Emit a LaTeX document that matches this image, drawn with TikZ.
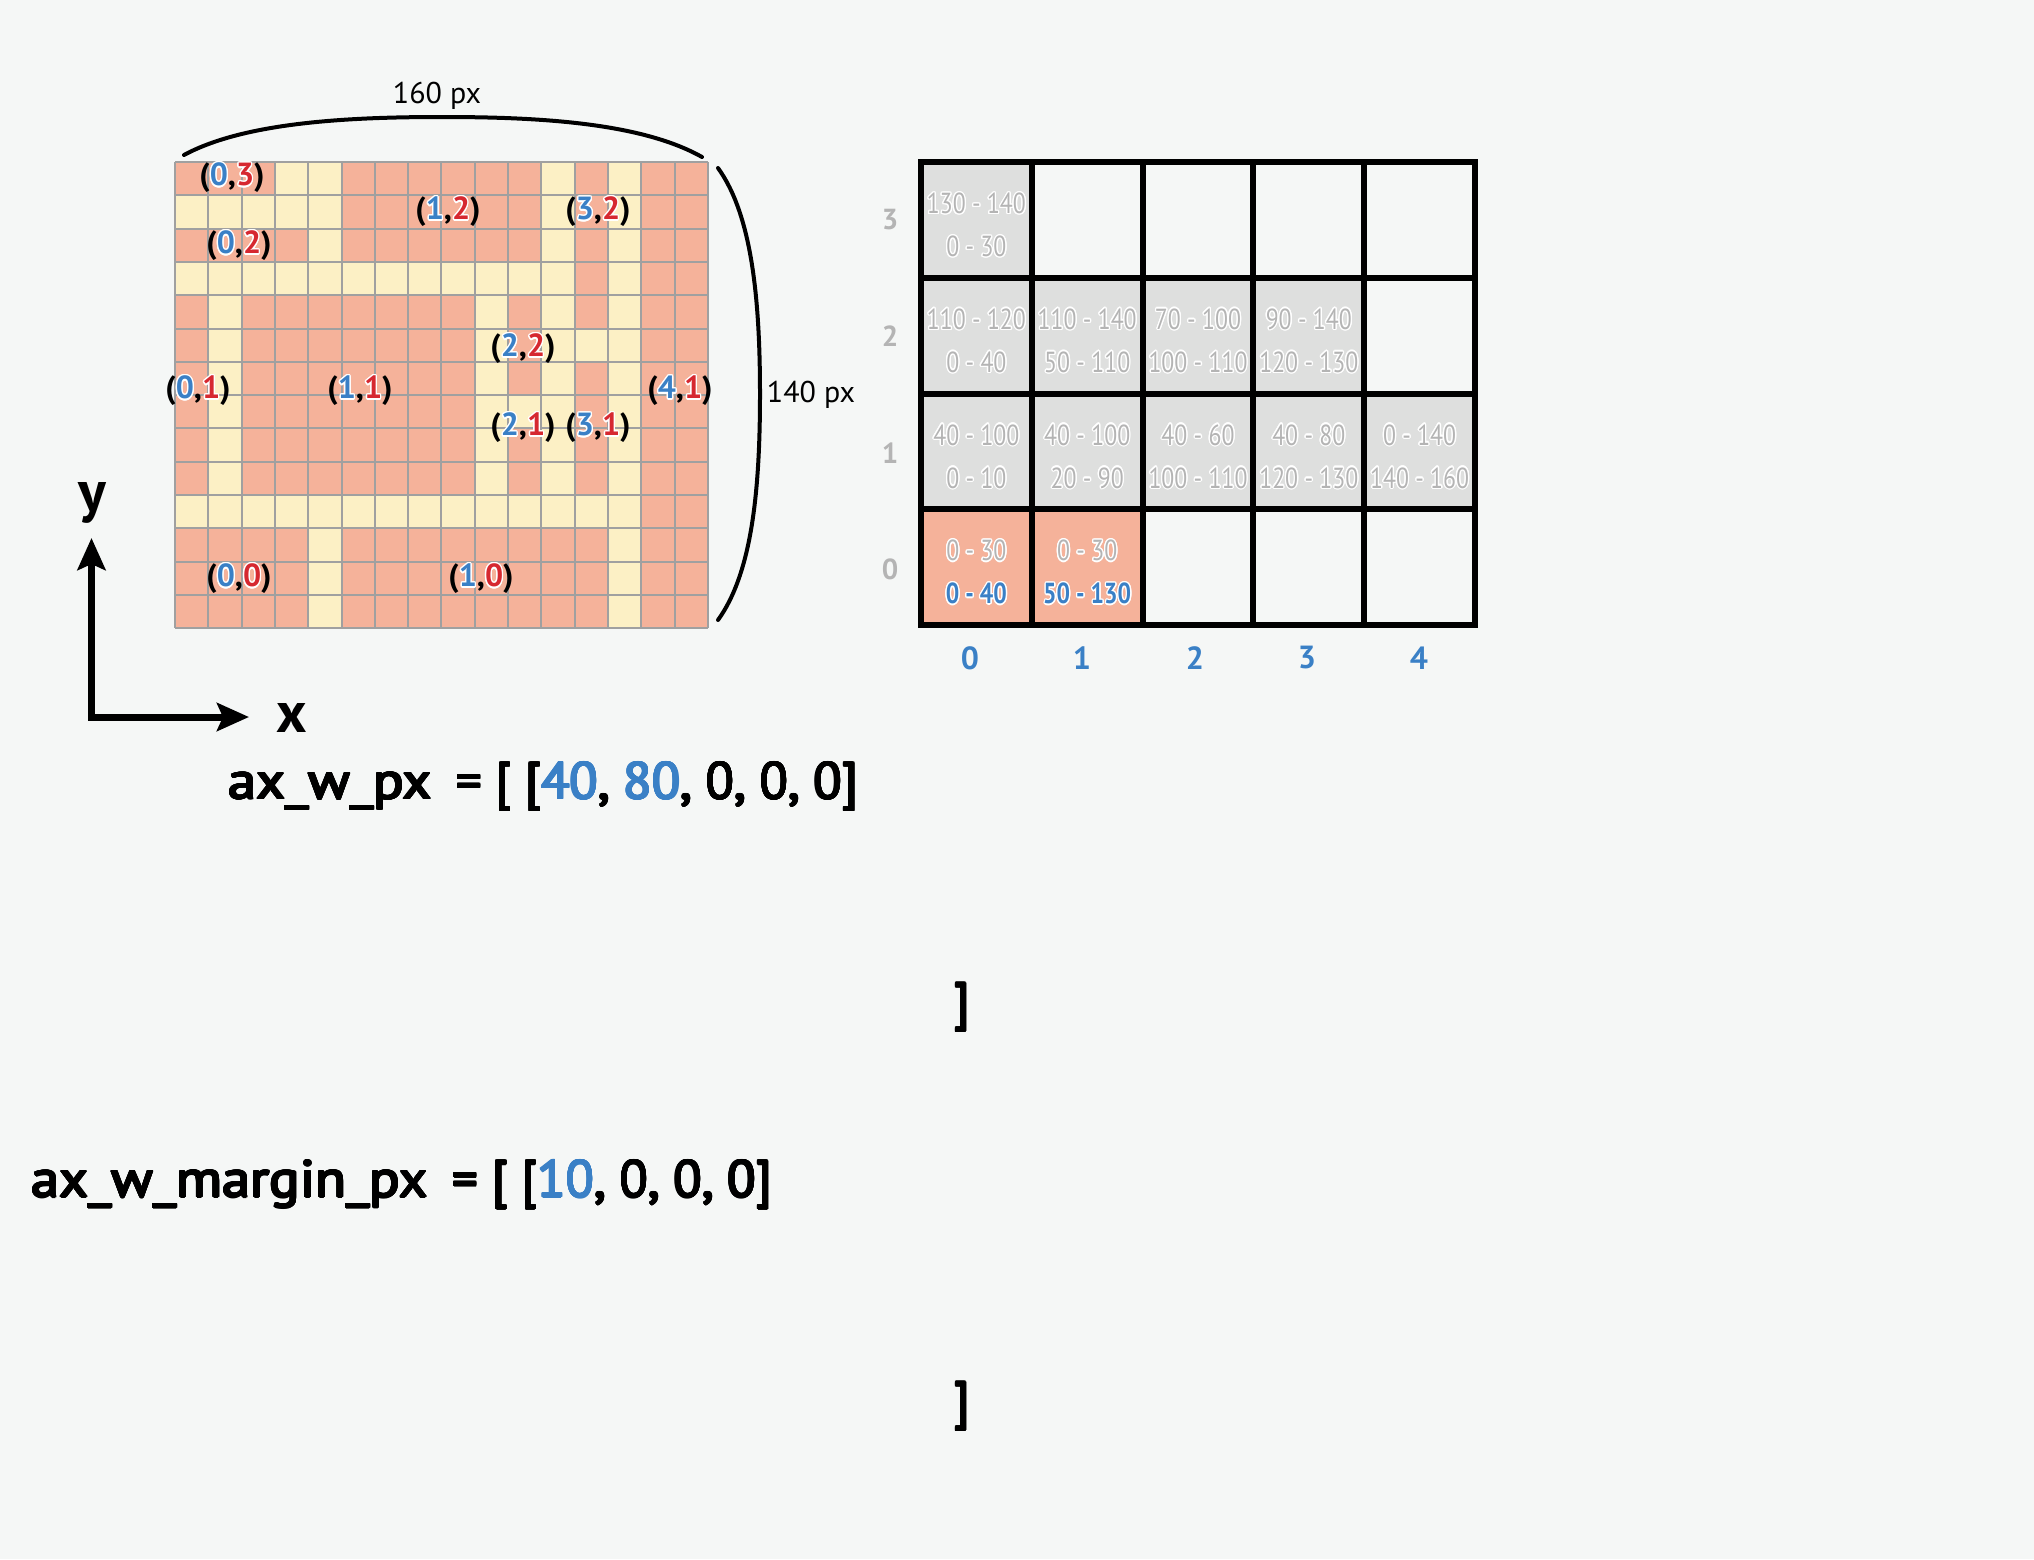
\documentclass[tikz,border=0pt]{standalone}
\usepackage{fontspec}
\setmainfont{PT Sans}
\newfontfamily\cellfont{PT Sans}[FakeStretch=0.82]
\newfontfamily\codefont{PT Sans}
\newfontfamily\codeid{PT Sans}[FakeStretch=1.09]
\usepackage{contour}
\contourlength{1.3pt}
\usetikzlibrary{arrows.meta}
\definecolor{bg}{RGB}{245,247,246}
\definecolor{salmon}{RGB}{245,178,154}
\definecolor{cream}{RGB}{252,240,197}
\definecolor{gridgray}{RGB}{160,160,160}
\definecolor{cellgray}{RGB}{222,223,222}
\definecolor{txtgray}{RGB}{180,180,180}
\definecolor{cblue}{RGB}{58,128,198}
\definecolor{cred}{RGB}{214,40,48}
\newcommand\cplabel[2]{(\textcolor{cblue}{\contour{white}{#1}},\textcolor{cred}{\contour{white}{#2}})}
\newcommand\embk[1]{{\contourlength{0.9pt}\contour{black}{#1}}}
\newcommand\embl[1]{{\contourlength{0.9pt}\color{cblue}\contour{cblue}{#1}}}
\tikzset{
  gridline/.style={draw=gridgray, line width=2pt},
  lab/.style={inner sep=0pt, font=\fontsize{32}{36}\selectfont\bfseries},
  brace/.style={draw=black, line width=4pt, line cap=round},
  dim/.style={inner sep=0pt, font=\fontsize{30}{34}\selectfont},
  axisline/.style={draw=black, line width=7pt, line join=miter,
     {Stealth[length=32pt,width=28pt,inset=6pt]}-{Stealth[length=32pt,width=28pt,inset=6pt]}},
  axlab/.style={inner sep=0pt, font=\fontsize{58}{62}\selectfont\bfseries},
  celltxt/.style={inner sep=0pt, text=txtgray, font=\fontsize{29}{32}\cellfont},
  rowlab/.style={inner sep=0pt, text=txtgray, font=\fontsize{29}{32}\selectfont\bfseries},
  collab/.style={inner sep=0pt, text=cblue, font=\fontsize{32}{36}\selectfont\bfseries},
  code/.style={inner sep=0pt, font=\fontsize{52}{58}\codefont},
}
\begin{document}
\begin{tikzpicture}[x=1pt,y=-1pt]
\fill[bg] (0,0) rectangle (2034,1559);
\useasboundingbox (0,0) rectangle (2034,1559);

% ---------- left pixel grid ----------
\begin{scope}[shift={(175,162)},x=33.3pt,y=-33.3pt]
  \fill[cream] (0,0) rectangle (16,14);
  \foreach \a/\b/\c/\d in {0/0/3/1,5/0/11/3,12/0/13/5,0/2/4/3,10/4/11/7,0/4/1/10,2/4/9/10,10/8/11/10,12/6/13/10,14/0/16/14,0/11/4/14,5/11/13/14}
    \fill[salmon] (\a,\b) rectangle (\c,\d);
  \foreach \i in {0,...,16} \draw[gridline] (\i,0) -- (\i,14);
  \foreach \j in {0,...,14} \draw[gridline] (0,\j) -- (16,\j);
\end{scope}

\node[lab] (l03) at (232,178) {\cplabel{0}{3}};
\node[lab] (l12) at (448,212) {\cplabel{1}{2}};
\node[lab] (l32) at (598,212) {\cplabel{3}{2}};
\node[lab] (l02) at (239,246) {\cplabel{0}{2}};
\node[lab] (l22) at (523,349) {\cplabel{2}{2}};
\node[lab] (l01) at (198,391) {\cplabel{0}{1}};
\node[lab] (l11) at (360,391) {\cplabel{1}{1}};
\node[lab] (l41) at (680,391) {\cplabel{4}{1}};
\node[lab] (l21) at (523,428) {\cplabel{2}{1}};
\node[lab] (l31) at (598,428) {\cplabel{3}{1}};
\node[lab] (l00) at (239,579) {\cplabel{0}{0}};
\node[lab] (l10) at (481,579) {\cplabel{1}{0}};

% ---------- braces ----------
\draw[brace] (184,155) .. controls (245,122) and (350,117) .. (442,117) .. controls (535,117) and (640,122) .. (702,157);
\draw[brace] (718,168) .. controls (752,215) and (760,300) .. (760,394) .. controls (760,490) and (752,573) .. (718,620);
\node[dim] (w160) at (437,96) {160 px};
\node[dim] (h140) at (811,395) {140 px};

% ---------- axes ----------
\coordinate (O) at (91.5,717);
\coordinate (Ytip) at (91.5,538);
\coordinate (Xtip) at (249,717);
\draw[axisline] (Ytip) -- (O) -- (Xtip);
\node[axlab] (ylab) at (92,503) {y};
\node[axlab] (xlab) at (292,718) {x};

% ---------- right table ----------
\foreach \c/\r in {0/0,0/1,1/1,2/1,3/1,0/2,1/2,2/2,3/2,4/2}
  \fill[cellgray] ({921+110.8*\c},{162+115.75*\r}) rectangle ++(110.8,115.75);
\foreach \c in {0,1}
  \fill[salmon] ({921+110.8*\c},{162+115.75*3}) rectangle ++(110.8,115.75);
\foreach \i in {1,...,4} \draw[line width=6pt] ({921+110.8*\i},162) -- ({921+110.8*\i},625);
\foreach \j in {1,...,3} \draw[line width=6pt] (921,{162+115.75*\j}) -- (1475,{162+115.75*\j});
\draw[line width=6pt, line join=miter] (921,162) rectangle (1475,625);

\foreach \c/\r/\ta/\tb in {0/0/130 - 140/0 - 30,0/1/110 - 120/0 - 40,1/1/110 - 140/50 - 110,2/1/70 - 100/100 - 110,3/1/90 - 140/120 - 130,0/2/40 - 100/0 - 10,1/2/40 - 100/20 - 90,2/2/40 - 60/100 - 110,3/2/40 - 80/120 - 130,4/2/0 - 140/140 - 160}{
  \node[celltxt] at ({921+110.8*(\c+0.5)},{162+115.75*\r+42}) {\contour{white}{\ta}};
  \node[celltxt] at ({921+110.8*(\c+0.5)},{162+115.75*\r+85}) {\contour{white}{\tb}};
}
\node[celltxt] (s00a) at ({921+110.8*0.5},{162+115.75*3+42}) {\contour{white}{0 - 30}};
\node[celltxt, text=cblue] (s00b) at ({921+110.8*0.5},{162+115.75*3+85}) {\bfseries\contour{white}{0 - 40}};
\node[celltxt] (s10a) at ({921+110.8*1.5},{162+115.75*3+42}) {\contour{white}{0 - 30}};
\node[celltxt, text=cblue] (s10b) at ({921+110.8*1.5},{162+115.75*3+85}) {\bfseries\contour{white}{50 - 130}};

\node[rowlab] (r3) at (890,220) {3};
\node[rowlab] (r2) at (890,336) {2};
\node[rowlab] (r1) at (890,453) {1};
\node[rowlab] (r0) at (890,569) {0};
\node[collab] (c0) at (970,658) {0};
\node[collab] (c1) at (1082,658) {1};
\node[collab] (c2) at (1195,658) {2};
\node[collab] (c3) at (1307,658) {3};
\node[collab] (c4) at (1419,658) {4};

% ---------- code lines ----------
\node[code, anchor=west] (code1) at (228,787) {\embk{{\codeid ax\_w\_px}\hspace{24pt}= [ [}\embl{40}\embk{, }\embl{80}\embk{, 0, 0, 0]}};
\node[code] (close1) at (962,1008) {\embk{]}};
\node[code, anchor=west] (code2) at (31,1185) {\embk{{\codeid ax\_w\_margin\_px}\hspace{24pt}= [ [}\embl{10}\embk{, 0, 0, 0]}};
\node[code] (close2) at (962,1407) {\embk{]}};
\end{tikzpicture}
\end{document}
